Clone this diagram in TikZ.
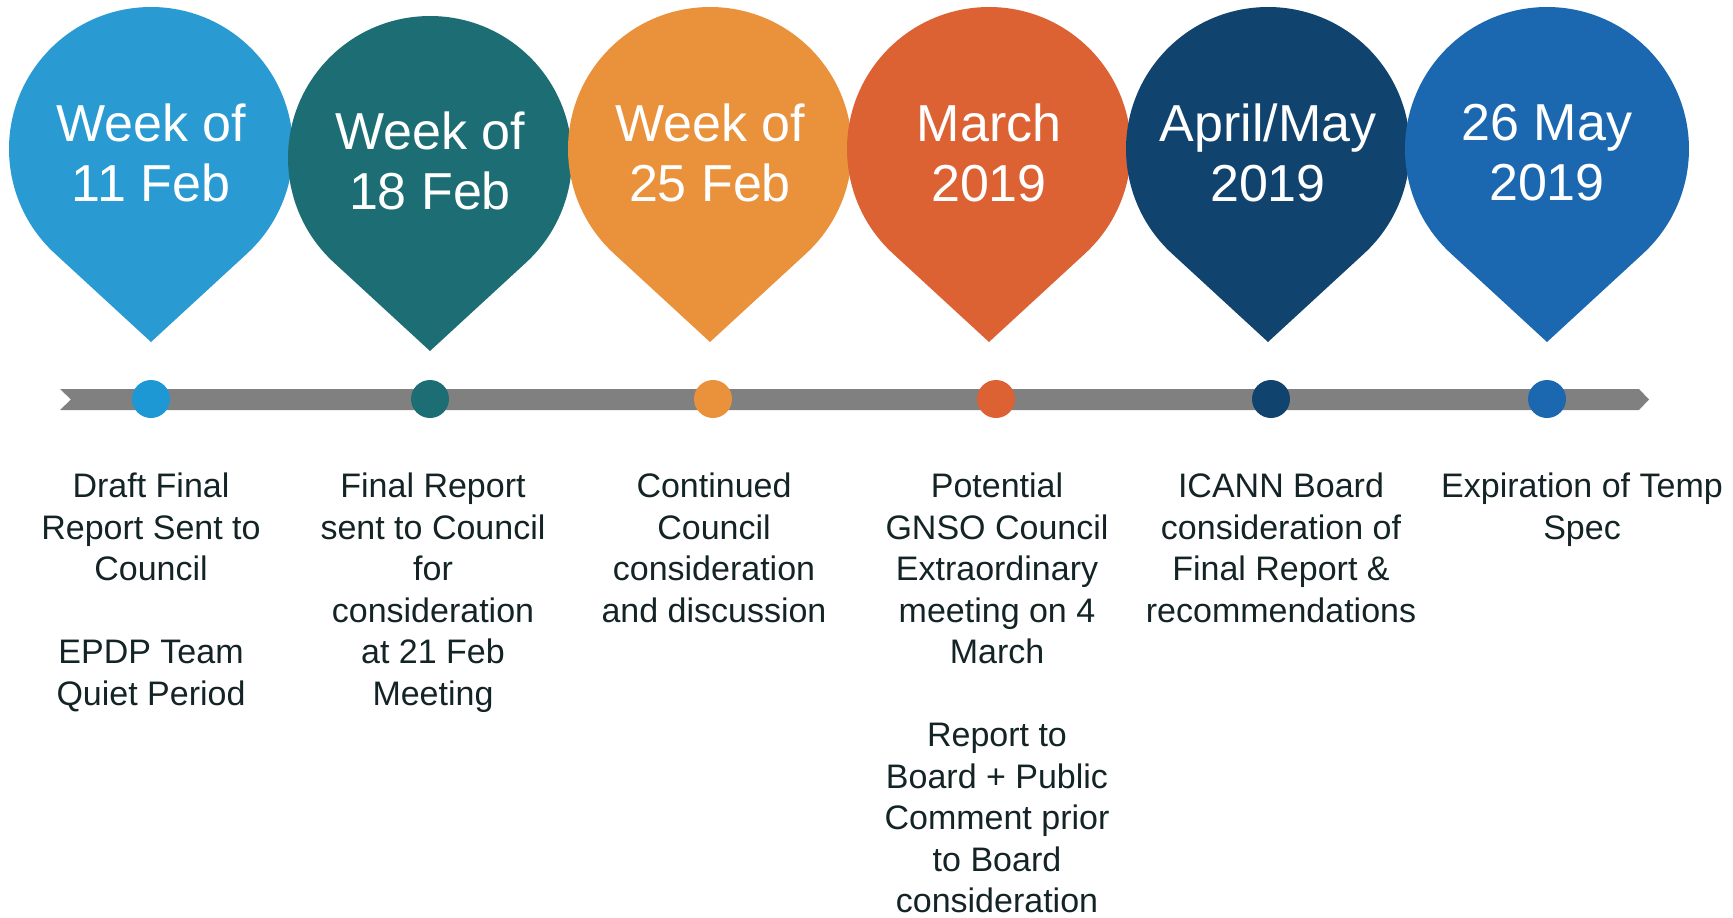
\documentclass[tikz,border=0pt]{standalone}
\usepackage{fontspec}
\setmainfont{Liberation Sans}
\usetikzlibrary{calc}
\definecolor{c1}{HTML}{299AD2}
\definecolor{c1d}{HTML}{1E98D5}
\definecolor{c2}{HTML}{1D6E74}
\definecolor{c3}{HTML}{EA923B}
\definecolor{c4}{HTML}{DC6234}
\definecolor{c5}{HTML}{10436E}
\definecolor{c6}{HTML}{1B68B0}
\definecolor{barcol}{HTML}{808080}
\definecolor{txt}{HTML}{142426}
\newcommand\droppin[3]{%
  \fill[#3] (#1,-#2-193) -- ($(#1,-#2)+(227.4:142)$) arc[start angle=227.4,end angle=-47.4,radius=142] -- cycle;}
\tikzset{
  pinlabel/.style={anchor=north, inner sep=0pt, align=center, text=white, font=\fontsize{52}{60}\selectfont},
  desc/.style={anchor=north, inner sep=0pt, align=center, text=txt, font=\fontsize{34}{41.5}\selectfont},
  dot/.style={circle, inner sep=0pt, minimum size=38pt},
}
\begin{document}
\begin{tikzpicture}[x=1pt,y=1pt]
\useasboundingbox (0,0) rectangle (1733,-918);
% pins
\droppin{151}{149}{c1}
\droppin{430}{158}{c2}
\droppin{710}{149}{c3}
\droppin{989}{149}{c4}
\droppin{1268}{149}{c5}
\droppin{1547}{149}{c6}
\node[pinlabel] (p1) at (151,-104) {Week of\\11 Feb};
\node[pinlabel] (p2) at (430,-112) {Week of\\18 Feb};
\node[pinlabel] (p3) at (710,-104) {Week of\\25 Feb};
\node[pinlabel] (p4) at (989,-104) {March\\2019};
\node[pinlabel] (p5) at (1268,-104) {April/May\\2019};
\node[pinlabel] (p6) at (1547,-104) {26 May\\2019};
% timeline bar
\fill[barcol] (60,-389) -- (1639,-389) -- (1649,-399.5) -- (1639,-410) -- (60,-410) -- (71,-399.5) -- cycle;
\node[dot, fill=c1d] (d1) at (151,-399) {};
\node[dot, fill=c2] (d2) at (430,-399) {};
\node[dot, fill=c3] (d3) at (713,-399) {};
\node[dot, fill=c4] (d4) at (996,-399) {};
\node[dot, fill=c5] (d5) at (1271,-399) {};
\node[dot, fill=c6] (d6) at (1547,-399) {};
% descriptions
\node[desc] (t1) at (151,-473) {Draft Final\\Report Sent to\\Council\\[41.5pt]EPDP Team\\Quiet Period};
\node[desc] (t2) at (433,-473) {Final Report\\sent to Council\\for\\consideration\\at 21 Feb\\Meeting};
\node[desc] (t3) at (714,-473) {Continued\\Council\\consideration\\and discussion};
\node[desc] (t4) at (997,-473) {Potential\\GNSO Council\\Extraordinary\\meeting on 4\\March\\[41.5pt]Report to\\Board + Public\\Comment prior\\to Board\\consideration};
\node[desc] (t5) at (1281,-473) {ICANN Board\\consideration of\\Final Report \&\\recommendations};
\node[desc] (t6) at (1582,-473) {Expiration of Temp\\Spec};
\end{tikzpicture}
\end{document}
